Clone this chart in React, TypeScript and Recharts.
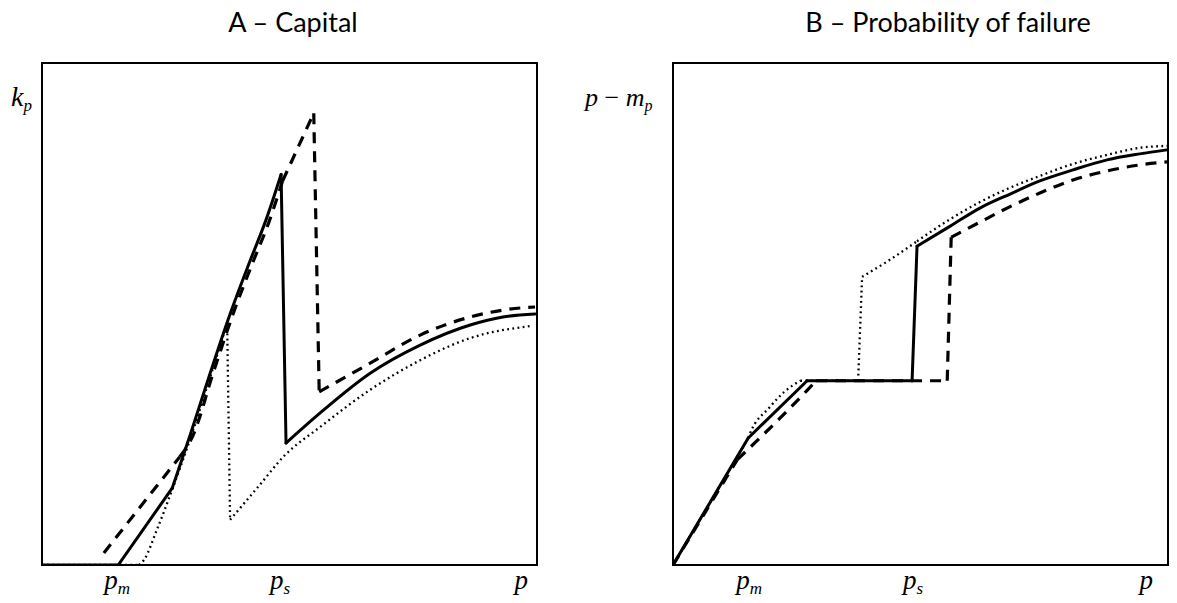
import React from 'react';
import { LineChart, Line, XAxis, YAxis, ReferenceArea } from 'recharts';

// ---------- Panel A – Capital (x: p in 0..100, y: k_p in 0..100) ----------
const capitalSolidX = [0, 15.4, 26.3, 29.9, 33.9, 38.0, 42.0, 45.2, 48.3, 49.3, 56.2, 66.3, 76.4, 86.5, 93.1, 99.6];
const capitalSolidY = [0, 0, 15.3, 25.8, 38.0, 50.0, 60.5, 68.6, 77.8, 24.3, 30.3, 38.2, 43.8, 47.8, 49.4, 50.0];
const capitalSolidBreaks = [0, 1, 2, 8, 9, 15];

const capitalDashedX = [12.5, 27.8, 30.5, 34.5, 38.6, 42.6, 45.8, 48.6, 54.9, 56.0, 66.3, 76.4, 86.5, 96.6, 99.6];
const capitalDashedY = [2.4, 21.5, 25.8, 38.0, 50.0, 60.3, 68.2, 76.5, 90.0, 34.5, 40.2, 45.8, 49.4, 51.2, 51.4];
const capitalDashedBreaks = [0, 1, 7, 8, 9, 14];

const capitalDottedX = [0, 19.6, 20.6, 23.2, 26.3, 29.9, 33.9, 37.4, 38.0, 43.6, 49.1, 56.2, 66.3, 76.4, 86.5, 98.6];
const capitalDottedY = [0, 0, 1.0, 7.0, 15.0, 25.0, 37.2, 48.2, 9.0, 15.5, 21.9, 27.5, 34.9, 40.8, 45.2, 47.6];
const capitalDottedBreaks = [0, 1, 7, 8, 15];

// ---------- Panel B – Probability of failure (y: p - m_p) ----------
const failureSolidX = [0, 15.2, 27.1, 48.3, 49.3, 56.0, 62.0, 68.1, 74.1, 80.8, 87.7, 94.3, 99.8];
const failureSolidY = [0, 25.3, 36.7, 36.7, 63.5, 67.5, 71.1, 73.9, 76.5, 78.7, 80.7, 81.9, 82.7];
const failureSolidBreaks = [0, 1, 2, 3, 4, 12];

const failureDashedX = [0, 13.0, 27.1, 28.9, 55.4, 56.2, 62.0, 67.5, 74.1, 80.8, 87.7, 94.3, 99.8];
const failureDashedY = [0, 21.0, 34.8, 36.7, 36.7, 65.3, 68.3, 71.1, 74.1, 76.7, 78.5, 79.7, 80.3];
const failureDashedBreaks = [0, 1, 3, 4, 5, 12];

const failureDottedX = [0, 15.2, 15.6, 19.6, 22.5, 25.7, 37.4, 38.2, 43.8, 49.3, 56.0, 62.0, 67.5, 74.1, 80.8, 87.7, 94.3, 99.8];
const failureDottedY = [0, 25.3, 26.3, 31.5, 34.5, 36.7, 36.7, 57.4, 60.8, 64.5, 68.9, 72.3, 74.9, 77.5, 79.9, 81.7, 83.1, 83.5];
const failureDottedBreaks = [0, 1, 5, 6, 7, 9, 17];

// ---------- tick labels ----------
const capitalTicks = [15.2, 48.1, 96.8];
const capitalTickLabels = ['p_m', 'p_s', 'p'];
const failureTicks = [15.4, 48.5, 95.6];
const failureTickLabels = ['p_m', 'p_s', 'p'];

type Pt = { x: number; y: number };
const zip = (xs: number[], ys: number[]): Pt[] => xs.map((x, i) => ({ x, y: ys[i] }));
const segments = (pts: Pt[], breaks: number[]): Pt[][] =>
  breaks.slice(0, -1).map((b, i) => pts.slice(b, breaks[i + 1] + 1));

const SERIF = "'Liberation Serif', 'DejaVu Serif', serif";

function makeTick(labels: string[], ticks: number[]) {
  return (props: any) => {
    const { x, payload } = props;
    const idx = ticks.indexOf(payload.value);
    const label = labels[idx >= 0 ? idx : 0] || '';
    const [base, sub] = label.split('_');
    return (
      <text x={x} y={589} textAnchor="middle" fontFamily={SERIF} fontStyle="italic" fontSize={27} fill="#000">
        {base}
        {sub ? <tspan fontSize={17} dy={5}>{sub}</tspan> : null}
      </text>
    );
  };
}

type Series = { pts: Pt[]; breaks: number[] };

type PanelProps = {
  left: number;
  yAxisWidth: number;
  rightMargin: number;
  ticks: number[];
  tickLabels: string[];
  solid: Series;
  dashed: Series;
  dotted: Series;
  yLabel: React.ReactNode;
};

function Panel(p: PanelProps) {
  const dotted = segments(p.dotted.pts, p.dotted.breaks);
  const dashed = segments(p.dashed.pts, p.dashed.breaks);
  const solid = segments(p.solid.pts, p.solid.breaks);
  return (
    <div style={{ position: 'absolute', left: p.left, top: 0 }}>
      <LineChart width={600} height={603} margin={{ top: 63, right: p.rightMargin, left: 0, bottom: 0 }}>
        <XAxis
          type="number"
          dataKey="x"
          domain={[0, 100]}
          ticks={p.ticks}
          interval={0}
          tick={makeTick(p.tickLabels, p.ticks)}
          tickLine={false}
          axisLine={false}
          height={38}
          allowDataOverflow
        />
        <YAxis
          type="number"
          dataKey="y"
          domain={[0, 100]}
          width={p.yAxisWidth}
          tick={false}
          tickLine={false}
          axisLine={false}
          allowDataOverflow
          label={{ content: () => p.yLabel }}
        />
        <ReferenceArea x1={0} x2={100} y1={0} y2={100} fill="#fff" fillOpacity={0} stroke="#000" strokeWidth={2} ifOverflow="visible" />
        {dotted.map((seg, i) => (
          <Line key={'dot' + i} data={seg} dataKey="y" type="monotone" stroke="#000" strokeWidth={2.3} strokeDasharray="1.8 3.4" dot={false} activeDot={false} isAnimationActive={false} />
        ))}
        {dashed.map((seg, i) => (
          <Line key={'dash' + i} data={seg} dataKey="y" type="monotone" stroke="#000" strokeWidth={3.2} strokeDasharray="11 8" dot={false} activeDot={false} isAnimationActive={false} />
        ))}
        {solid.map((seg, i) => (
          <Line key={'sol' + i} data={seg} dataKey="y" type="monotone" stroke="#000" strokeWidth={3} strokeLinecap="round" dot={false} activeDot={false} isAnimationActive={false} />
        ))}
      </LineChart>
    </div>
  );
}

const titleStyle: React.CSSProperties = {
  position: 'absolute',
  top: 4,
  height: 36,
  lineHeight: '36px',
  width: 500,
  textAlign: 'center',
  fontFamily: "Lato, 'Open Sans', sans-serif",
  fontSize: 27,
  color: '#000',
};

export default function App() {
  const kLabel = (
    <text x={11} y={106} fontFamily={SERIF} fontStyle="italic" fontSize={28} fill="#000">
      k<tspan fontSize={17} dy={5}>p</tspan>
    </text>
  );
  const pmLabel = (
    <text x={8} y={106} fontFamily={SERIF} fontSize={26} fill="#000">
      <tspan fontStyle="italic">p</tspan>
      <tspan> − </tspan>
      <tspan fontStyle="italic">m</tspan>
      <tspan fontStyle="italic" fontSize={16} dy={5}>p</tspan>
    </text>
  );
  return (
    <div style={{ position: 'absolute', left: 0, top: 0, width: 1177, height: 603, background: '#fff' }}>
      <div style={{ ...titleStyle, left: 293 - 250 }}>A – Capital</div>
      <div style={{ ...titleStyle, left: 948 - 250 }}>B – Probability of failure</div>
      <Panel
        left={0}
        yAxisWidth={42}
        rightMargin={63}
        ticks={capitalTicks}
        tickLabels={capitalTickLabels}
        solid={{ pts: zip(capitalSolidX, capitalSolidY), breaks: capitalSolidBreaks }}
        dashed={{ pts: zip(capitalDashedX, capitalDashedY), breaks: capitalDashedBreaks }}
        dotted={{ pts: zip(capitalDottedX, capitalDottedY), breaks: capitalDottedBreaks }}
        yLabel={kLabel}
      />
      <Panel
        left={577}
        yAxisWidth={96}
        rightMargin={9}
        ticks={failureTicks}
        tickLabels={failureTickLabels}
        solid={{ pts: zip(failureSolidX, failureSolidY), breaks: failureSolidBreaks }}
        dashed={{ pts: zip(failureDashedX, failureDashedY), breaks: failureDashedBreaks }}
        dotted={{ pts: zip(failureDottedX, failureDottedY), breaks: failureDottedBreaks }}
        yLabel={pmLabel}
      />
    </div>
  );
}
